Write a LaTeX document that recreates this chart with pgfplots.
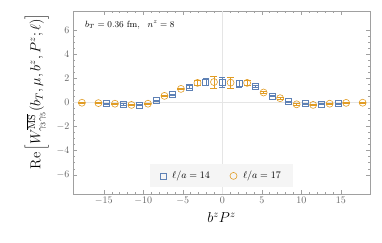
\documentclass[border=0pt]{standalone}
\usepackage{pgfplots}
\pgfplotsset{compat=1.18}
\definecolor{mblue}{RGB}{94,129,181}
\definecolor{morange}{RGB}{225,156,36}
\definecolor{framegray}{RGB}{160,160,160}
\definecolor{labgray}{RGB}{100,100,100}
\begin{document}
\begin{tikzpicture}
\begin{axis}[
  name=ax,
  scale only axis,
  width=297pt, height=183pt,
  xmin=-18.9, xmax=18.7,
  ymin=-7.6, ymax=7.6,
  xtick={-15,-10,-5,0,5,10,15},
  ytick={-6,-4,-2,0,2,4,6},
  minor x tick num=4,
  minor y tick num=3,
  tick align=inside,
  major tick length=4pt,
  minor tick length=2pt,
  axis line style={framegray},
  every tick/.style={framegray},
  tick label style={labgray, font=\normalsize},
  xlabel={$b^z P^z$},
  xlabel style={font=\Large, yshift=-1pt},
  ylabel={$\mathrm{Re}\left[W^{\overline{\mathrm{MS}}}_{\gamma_3\gamma_5}(b_T,\mu,b^z,P^z;\ell)\right]$},
  ylabel style={font=\Large, at={(ticklabel cs:0.56)}, yshift=1pt},
  extra x ticks={0}, extra x tick labels={},
  extra y ticks={0}, extra y tick labels={},
  extra tick style={grid=major, major grid style={gray!20, line width=0.4pt}, major tick length=0pt},
  legend style={at={(0.5,0.035)}, anchor=south, draw=none, fill=gray!8, legend columns=2,
    font=\normalsize, column sep=4pt, inner xsep=10pt, inner ysep=5pt,
    /tikz/every even column/.append style={column sep=18pt}},
  legend cell align=left,
]
\addplot[only marks, mark=square, mark size=3pt, mblue, mark options={fill=mblue!15, line width=0.6pt},
  error bars/.cd, y dir=both, y explicit, error mark options={rotate=90, mark size=3pt, mblue, line width=0.6pt}]
  coordinates {
  (-14.63,-0.10) +- (0,0.05)
  (-12.54,-0.15) +- (0,0.05)
  (-10.45,-0.20) +- (0,0.06)
  (-8.36,0.16) +- (0,0.06)
  (-6.27,0.64) +- (0,0.07)
  (-4.18,1.30) +- (0,0.10)
  (-2.09,1.70) +- (0,0.30)
  (0,1.70) +- (0,0.40)
  (2.09,1.58) +- (0,0.30)
  (4.18,1.35) +- (0,0.10)
  (6.27,0.55) +- (0,0.07)
  (8.36,0.08) +- (0,0.06)
  (10.45,-0.10) +- (0,0.06)
  (12.54,-0.13) +- (0,0.05)
  (14.63,-0.08) +- (0,0.05)
  };
\addlegendentry{$\ell/a=14$}
\addplot[only marks, mark=o, mark size=3.5pt, morange, mark options={fill=morange!12, line width=0.6pt},
  error bars/.cd, y dir=both, y explicit, error mark options={rotate=90, mark size=3.5pt, morange, line width=0.6pt}]
  coordinates {
  (-17.77,-0.02) +- (0,0.04)
  (-15.68,-0.05) +- (0,0.04)
  (-13.59,-0.10) +- (0,0.05)
  (-11.50,-0.20) +- (0,0.05)
  (-9.41,-0.10) +- (0,0.06)
  (-7.32,0.55) +- (0,0.06)
  (-5.23,1.13) +- (0,0.07)
  (-3.14,1.63) +- (0,0.22)
  (-1.05,1.70) +- (0,0.48)
  (1.05,1.65) +- (0,0.45)
  (3.14,1.63) +- (0,0.22)
  (5.23,0.83) +- (0,0.07)
  (7.32,0.36) +- (0,0.06)
  (9.41,-0.15) +- (0,0.06)
  (11.50,-0.20) +- (0,0.05)
  (13.59,-0.10) +- (0,0.05)
  (15.68,-0.03) +- (0,0.04)
  (17.77,-0.02) +- (0,0.04)
  };
\addlegendentry{$\ell/a=17$}
\node[anchor=west, font=\small] at (axis cs:-17.8,6.45) {$b_T = 0.36~\mathrm{fm},\ \ n^z = 8$};
\end{axis}
\pgfresetboundingbox
\path ([shift={(-73pt,-49pt)}]ax.south west) rectangle ([shift={(12pt,11pt)}]ax.north east);
\end{tikzpicture}
\end{document}
